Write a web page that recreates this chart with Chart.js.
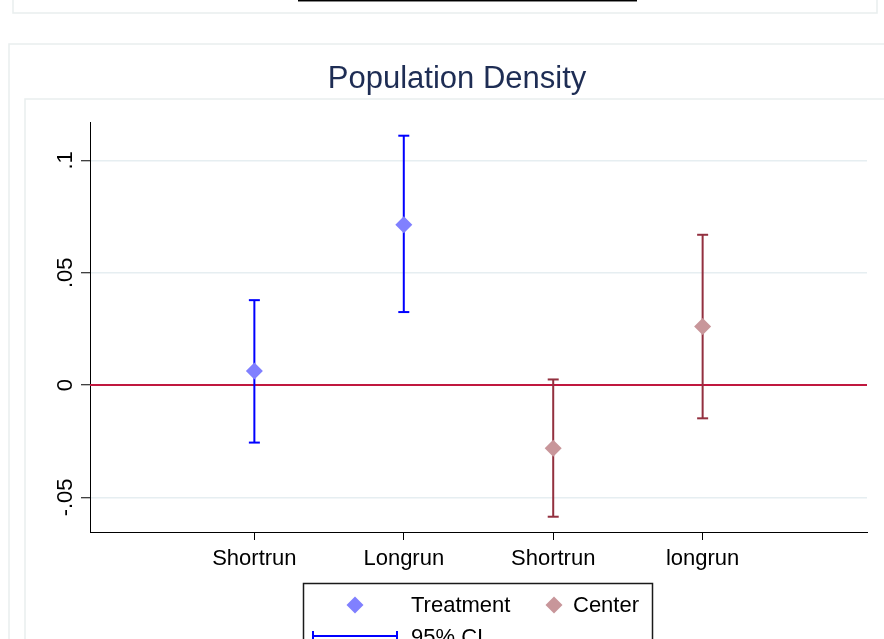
<!DOCTYPE html>
<html>
<head>
<meta charset="utf-8">
<title>Population Density</title>
<script src="https://cdn.jsdelivr.net/npm/chart.js@4/dist/chart.umd.min.js"></script>
<style>
  html, body { margin: 0; padding: 0; background: #fff; }
  #wrap { width: 884px; height: 639px; position: relative; }
</style>
</head>
<body>
<div id="wrap"><canvas id="c" width="884" height="639"></canvas></div>
<script>
// ---- data ----
const titleText = 'Population Density';
const categories = ['Shortrun', 'Longrun', 'Shortrun', 'longrun'];
const seriesNames = ['Treatment', 'Center'];
const ciLabel = '95% CI';

const treatPos = [1, 2];
const treatEst = [0.0063, 0.0714];
const treatLo  = [-0.0256, 0.0325];
const treatHi  = [0.0378, 0.1110];

const centerPos = [3, 4];
const centerEst = [-0.0281, 0.0261];
const centerLo  = [-0.0586, -0.0148];
const centerHi  = [0.0025, 0.0669];

const xTicks = [1, 2, 3, 4];
const yTicks = [-0.05, 0, 0.05, 0.1];
const yTickLabels = ['-.05', '0', '.05', '.1'];
const refLine = 0;

// ---- axis ranges ----
const xMin = -0.1, xMax = 5.1;
const yMin = -0.0654, yMax = 0.1171;

// ---- styles ----
const FONT = '"Liberation Sans", Arial, Helvetica, sans-serif';
const treatMarker = '#8080ff';
const treatCI = '#0000ff';
const centerMarker = '#c8969a';
const centerCI = '#93303f';
const refColor = '#c0183f';
const gridColor = '#e6eef1';
const frameColor = '#e9eeee';

function points(pos, vals) {
  return pos.map((p, i) => ({ x: p, y: vals[i] }));
}
// vertical interval segments, separated by gaps
function ciSegments(pos, lo, hi) {
  const out = [];
  pos.forEach((p, i) => {
    if (i) out.push({ x: (pos[i - 1] + p) / 2, y: null });
    out.push({ x: p, y: lo[i] }, { x: p, y: hi[i] });
  });
  return out;
}

function ciDataset(label, pos, lo, hi, color) {
  return {
    label, data: ciSegments(pos, lo, hi), showLine: true, spanGaps: false,
    borderColor: color, borderWidth: 2, pointStyle: 'line', pointRadius: 5.5,
    pointBorderColor: color, pointBorderWidth: 2, order: 1
  };
}
function markerDataset(label, pos, est, color) {
  return {
    label, data: points(pos, est), showLine: false, pointStyle: 'rectRot',
    pointRadius: 8.5, backgroundColor: color, pointBackgroundColor: color,
    pointBorderWidth: 0, borderWidth: 0, order: 0
  };
}

// background frames of the graph region and plot region
const framePlugin = {
  id: 'frames',
  beforeDraw(chart) {
    const ctx = chart.ctx;
    ctx.save();
    ctx.fillStyle = '#fff';
    ctx.fillRect(0, 0, chart.width, chart.height);
    ctx.strokeStyle = frameColor;
    ctx.lineWidth = 1.5;
    // panel above (bottom edge only visible)
    ctx.strokeRect(13, -20, 864, 33);
    // its legend box bottom
    ctx.strokeStyle = '#000';
    ctx.lineWidth = 1;
    ctx.beginPath(); ctx.moveTo(298, 0.5); ctx.lineTo(637, 0.5); ctx.stroke();
    ctx.strokeStyle = '#888';
    ctx.beginPath(); ctx.moveTo(298, 1.5); ctx.lineTo(637, 1.5); ctx.stroke();
    // this panel
    ctx.strokeStyle = frameColor;
    ctx.lineWidth = 1.5;
    ctx.strokeRect(9, 44, 920, 640);
    ctx.strokeRect(25, 99, 920, 640);
    ctx.restore();
  }
};

// title, rotated y labels and legend
const annotatePlugin = {
  id: 'annotate',
  afterDraw(chart) {
    const ctx = chart.ctx;
    const ys = chart.scales.y;
    ctx.save();
    // title
    ctx.fillStyle = '#1e2d54';
    ctx.font = '31px ' + FONT;
    ctx.textAlign = 'center';
    ctx.textBaseline = 'alphabetic';
    ctx.fillText(titleText, 457, 88);

    // y tick labels, reading upward
    ctx.fillStyle = '#000';
    ctx.font = '22px ' + FONT;
    yTicks.forEach((v, i) => {
      const py = ys.getPixelForValue(v);
      ctx.save();
      ctx.translate(65, py);
      ctx.rotate(-Math.PI / 2);
      ctx.textAlign = 'center';
      ctx.textBaseline = 'middle';
      ctx.fillText(yTickLabels[i], 0, 1);
      ctx.restore();
    });

    // legend box
    ctx.strokeStyle = '#1a1a1a';
    ctx.lineWidth = 1.5;
    ctx.strokeRect(303.5, 583.5, 349, 120);

    const diamond = (x, y, r, color) => {
      ctx.fillStyle = color;
      ctx.beginPath();
      ctx.moveTo(x - r, y); ctx.lineTo(x, y - r); ctx.lineTo(x + r, y); ctx.lineTo(x, y + r);
      ctx.closePath(); ctx.fill();
    };
    ctx.font = '22px ' + FONT;
    ctx.textAlign = 'left';
    ctx.textBaseline = 'middle';
    diamond(355, 605, 8.5, treatMarker);
    ctx.fillStyle = '#000';
    ctx.fillText(seriesNames[0], 411, 606);
    diamond(554, 605, 8.5, centerMarker);
    ctx.fillStyle = '#000';
    ctx.fillText(seriesNames[1], 573, 606);

    // interval key
    ctx.strokeStyle = treatCI;
    ctx.lineWidth = 2;
    ctx.beginPath();
    ctx.moveTo(313, 636); ctx.lineTo(397, 636);
    ctx.moveTo(313, 631); ctx.lineTo(313, 641);
    ctx.moveTo(397, 631); ctx.lineTo(397, 641);
    ctx.stroke();
    ctx.fillStyle = '#000';
    ctx.fillText(ciLabel, 411, 638);
    ctx.restore();
  }
};

new Chart(document.getElementById('c'), {
  type: 'scatter',
  data: {
    datasets: [
      markerDataset(seriesNames[0], treatPos, treatEst, treatMarker),
      markerDataset(seriesNames[1], centerPos, centerEst, centerMarker),
      ciDataset(seriesNames[0] + ' ' + ciLabel, treatPos, treatLo, treatHi, treatCI),
      ciDataset(seriesNames[1] + ' ' + ciLabel, centerPos, centerLo, centerHi, centerCI),
      {
        label: 'reference', data: [{ x: xMin, y: refLine }, { x: xMax, y: refLine }],
        showLine: true, borderColor: refColor, borderWidth: 2, pointRadius: 0, order: 2
      }
    ]
  },
  options: {
    responsive: false,
    devicePixelRatio: 1,
    animation: false,
    events: [],
    layout: { padding: { top: 122, right: 17, bottom: 0, left: 0 } },
    plugins: { legend: { display: false }, title: { display: false }, tooltip: { enabled: false } },
    scales: {
      x: {
        type: 'linear', min: xMin, max: xMax,
        afterBuildTicks: s => { s.ticks = xTicks.map(v => ({ value: v })); },
        afterFit: s => { s.height = 107; },
        ticks: {
          callback: v => categories[Math.round(v) - 1],
          font: { family: FONT, size: 22 }, color: '#000',
          padding: 6, autoSkip: false, maxRotation: 0, minRotation: 0
        },
        grid: { drawOnChartArea: false, drawTicks: true, tickLength: 8, tickColor: '#000', tickWidth: 1 },
        border: { color: '#000', width: 1 }
      },
      y: {
        type: 'linear', min: yMin, max: yMax,
        afterBuildTicks: s => { s.ticks = yTicks.map(v => ({ value: v })); },
        afterFit: s => { s.width = 90; },
        ticks: { display: false },
        grid: { color: gridColor, lineWidth: 1.5, drawTicks: true, tickLength: 9, tickColor: '#000', tickWidth: 1 },
        border: { color: '#000', width: 1 }
      }
    }
  },
  plugins: [framePlugin, annotatePlugin]
});
</script>
</body>
</html>
